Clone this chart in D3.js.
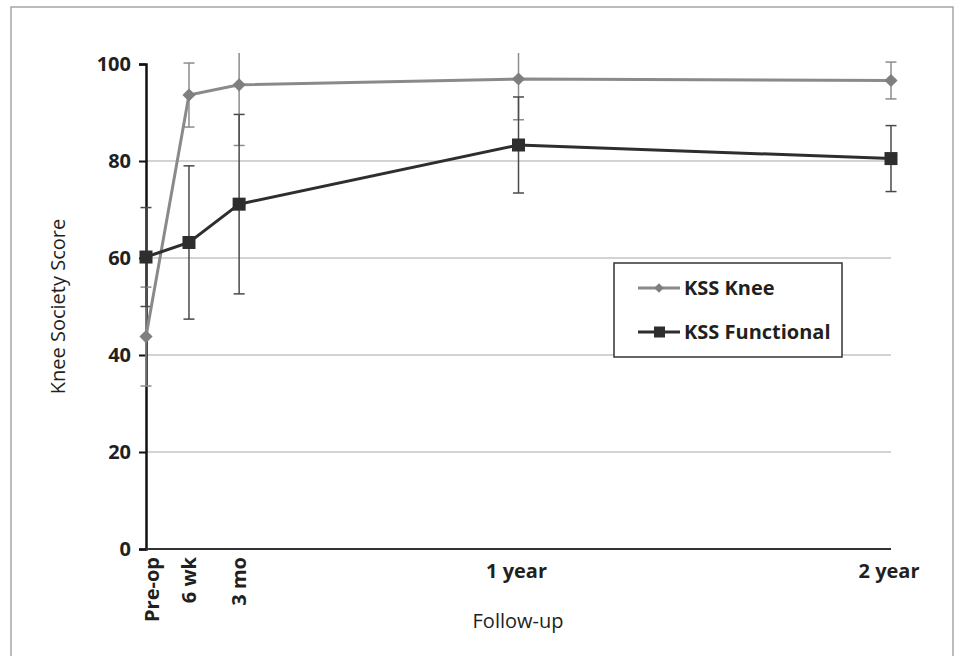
<!DOCTYPE html>
<html>
<head>
<meta charset="utf-8">
<script src="https://cdn.jsdelivr.net/npm/d3@7"></script>
<style>
  body { margin: 0; background: #fff; }
  svg text { font-family: "Open Sans", "DejaVu Sans", sans-serif; fill: #231f20; }
</style>
</head>
<body>
<div id="chart"></div>
<script>
// follow-up time points (weeks after surgery)
var timepoints = ["Pre-op", "6 wk", "3 mo", "1 year", "2 year"];
var weeks = [0, 6, 13, 52, 104];

// KSS Knee, mean and SD
var kneeMean = [43.8, 93.6, 95.7, 96.9, 96.6];
var kneeSD = [10.2, 6.6, 12.5, 8.4, 3.8];

// KSS Functional, mean and SD
var funcMean = [60.2, 63.2, 71.1, 83.3, 80.5];
var funcSD = [10.2, 15.8, 18.5, 9.9, 6.8];

var yTicks = [0, 20, 40, 60, 80, 100];
var gridValues = [20, 40, 60, 80];
var rotatedLabels = ["Pre-op", "6 wk", "3 mo"];

var width = 961, height = 656;

var svg = d3.select("#chart").append("svg")
  .attr("width", width)
  .attr("height", height);

// outer frame
svg.append("rect")
  .attr("x", 11).attr("y", 7)
  .attr("width", 942).attr("height", 700)
  .attr("fill", "none")
  .attr("stroke", "#a6a6a6")
  .attr("stroke-width", 1.5);

var x = d3.scaleLinear().domain([0, 104]).range([146, 891]);
var y = d3.scaleLinear().domain([0, 100]).range([549, 64]);

svg.append("clipPath").attr("id", "plotClip")
  .append("rect")
  .attr("x", 120).attr("y", 53)
  .attr("width", 800).attr("height", 510);

// gridlines
svg.append("g").selectAll("line")
  .data(gridValues)
  .enter().append("line")
    .attr("x1", x(0)).attr("x2", x(104))
    .attr("y1", function(d) { return y(d); })
    .attr("y2", function(d) { return y(d); })
    .attr("stroke", "#c4c4c4")
    .attr("stroke-width", 1.5);

// y axis
var yAxis = svg.append("g")
  .attr("transform", "translate(" + x(0) + ",0)")
  .call(d3.axisLeft(y).tickValues(yTicks).tickSize(7).tickPadding(8));
yAxis.select(".domain").attr("stroke", "#111").attr("stroke-width", 2.5);
yAxis.selectAll(".tick line").attr("stroke", "#111").attr("stroke-width", 2);
yAxis.selectAll(".tick text")
  .attr("font-size", "20px")
  .attr("font-weight", 700)
  .style("font-family", "'Open Sans', sans-serif")
  .attr("fill", "#231f20");

// x axis line
svg.append("line")
  .attr("x1", x(0)).attr("x2", x(104))
  .attr("y1", y(0)).attr("y2", y(0))
  .attr("stroke", "#333")
  .attr("stroke-width", 2);

// x tick labels
var xl = svg.append("g").attr("class", "xlabels");
timepoints.forEach(function(t, i) {
  if (rotatedLabels.indexOf(t) >= 0) {
    var off = i === 0 ? 6 : 0;
    xl.append("text")
      .attr("transform", "translate(" + (x(weeks[i]) + off) + ",557) rotate(-90)")
      .attr("text-anchor", "end")
      .attr("dy", "0.36em")
      .attr("font-size", "20px")
      .attr("font-weight", 700)
      .text(t);
  } else {
    xl.append("text")
      .attr("x", x(weeks[i]) - 2)
      .attr("y", 578)
      .attr("text-anchor", "middle")
      .attr("font-size", "20px")
      .attr("font-weight", 700)
      .text(t);
  }
});

// axis titles
svg.append("text")
  .attr("transform", "translate(65," + y(50) + ") rotate(-90)")
  .attr("text-anchor", "middle")
  .attr("font-size", "20px")
  .text("Knee Society Score");

svg.append("text")
  .attr("x", 518).attr("y", 628)
  .attr("text-anchor", "middle")
  .attr("font-size", "20px")
  .text("Follow-up");

var plot = svg.append("g").attr("clip-path", "url(#plotClip)");

function errorBars(means, sds, color) {
  var g = plot.append("g");
  means.forEach(function(m, i) {
    var cx = x(weeks[i]);
    g.append("line")
      .attr("x1", cx).attr("x2", cx)
      .attr("y1", y(m + sds[i])).attr("y2", y(m - sds[i]))
      .attr("stroke", color).attr("stroke-width", 1.5);
    [m + sds[i], m - sds[i]].forEach(function(v) {
      g.append("line")
        .attr("x1", cx - 5.5).attr("x2", cx + 5.5)
        .attr("y1", y(v)).attr("y2", y(v))
        .attr("stroke", color).attr("stroke-width", 1.5);
    });
  });
}

errorBars(kneeMean, kneeSD, "#8c8c8c");
errorBars(funcMean, funcSD, "#4a4a4a");

var line = d3.line()
  .x(function(d, i) { return x(weeks[i]); })
  .y(function(d) { return y(d); });

plot.append("path")
  .datum(kneeMean)
  .attr("d", line)
  .attr("fill", "none")
  .attr("stroke", "#8a8a8a")
  .attr("stroke-width", 3);

plot.append("path")
  .datum(funcMean)
  .attr("d", line)
  .attr("fill", "none")
  .attr("stroke", "#2e2e2e")
  .attr("stroke-width", 3);

var diamond = d3.symbol().type(d3.symbolDiamond2).size(110);

plot.selectAll(".knee-pt")
  .data(kneeMean)
  .enter().append("path")
    .attr("class", "knee-pt")
    .attr("d", diamond)
    .attr("transform", function(d, i) { return "translate(" + x(weeks[i]) + "," + y(d) + ")"; })
    .attr("fill", "#7f7f7f");

plot.selectAll(".func-pt")
  .data(funcMean)
  .enter().append("rect")
    .attr("class", "func-pt")
    .attr("x", function(d, i) { return x(weeks[i]) - 6.5; })
    .attr("y", function(d) { return y(d) - 6.5; })
    .attr("width", 13).attr("height", 13)
    .attr("fill", "#2e2e2e");

// legend
var legend = svg.append("g").attr("transform", "translate(614,263)");
legend.append("rect")
  .attr("width", 228).attr("height", 94)
  .attr("fill", "#fff")
  .attr("stroke", "#333")
  .attr("stroke-width", 1.5);

var legendItems = [
  { name: "KSS Knee", color: "#8a8a8a", marker: "diamond" },
  { name: "KSS Functional", color: "#2e2e2e", marker: "square" }
];

legendItems.forEach(function(it, i) {
  var ly = 25 + i * 44;
  legend.append("line")
    .attr("x1", 24).attr("x2", 66)
    .attr("y1", ly).attr("y2", ly)
    .attr("stroke", it.color).attr("stroke-width", 3);
  if (it.marker === "diamond") {
    legend.append("path")
      .attr("d", d3.symbol().type(d3.symbolDiamond2).size(60))
      .attr("transform", "translate(45," + ly + ")")
      .attr("fill", "#7f7f7f");
  } else {
    legend.append("rect")
      .attr("x", 40).attr("y", ly - 5.5)
      .attr("width", 11).attr("height", 11)
      .attr("fill", it.color);
  }
  legend.append("text")
    .attr("x", 70).attr("y", ly)
    .attr("dy", "0.36em")
    .attr("font-size", "20px")
    .attr("font-weight", 700)
    .text(it.name);
});
</script>
</body>
</html>
